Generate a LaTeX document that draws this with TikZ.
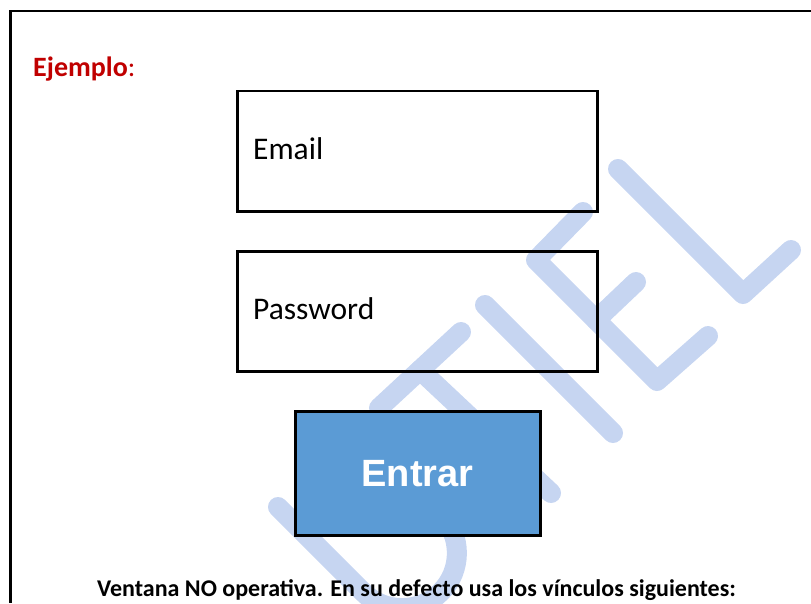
\documentclass[tikz,border=0pt]{standalone}
\usepackage{fontspec}
\setmainfont{Carlito}
\newfontfamily\btnfont{Liberation Sans}
\definecolor{wmblue}{RGB}{198,213,241}
\definecolor{btnblue}{HTML}{5B9BD5}
\definecolor{darkred}{HTML}{C00000}
\begin{document}
\begin{tikzpicture}[x=1pt,y=-1pt,
  wm/.style={draw=wmblue,line width=20pt,line cap=round,line join=round},
  fieldbox/.style={draw=black,line width=2.7pt,minimum width=360pt,minimum height=120.5pt,inner sep=0pt},
  btnbox/.style={draw=black,line width=3pt,fill=btnblue,minimum width=245pt,minimum height=124.5pt,inner sep=0pt,
     text=white,font=\btnfont\bfseries\fontsize{38}{42}\selectfont},
  fieldtext/.style={anchor=base west,inner sep=0pt,font=\fontsize{31.5}{36}\selectfont},
  frameline/.style={draw=black,line width=2.5pt}]
\useasboundingbox (0,0) rectangle (811,603);
% watermark UTIEL
\draw[wm] (278,507) -- (363,592) arc[start angle=-135,end angle=45,radius=55pt] -- (356,429);
\draw[wm] (379,408) -- (461,332);
\draw[wm] (420,370) -- (551,493);
\draw[wm] (485,305) -- (613,433);
\draw[wm] (583,212) -- (536,260) -- (657,381) -- (708,336);
\draw[wm] (596,320) -- (636,282);
\draw[wm] (618,169) -- (743,294) -- (791,250);
% frame
\coordinate (ftl) at (10.5,11);
\coordinate (ftr) at (811,11);
\coordinate (fbl) at (10.5,603);
\draw[frameline] (ftr) -- (ftl) -- (fbl);
% title
\node[anchor=base west,inner sep=0pt,text=darkred,font=\fontsize{28}{32}\selectfont] (title) at (33,76) {\textbf{Ejemplo}:};
% fields
\node[fieldbox] (email) at (417.6,151.3) {};
\node[fieldtext] (emaillbl) at (253,159) {Email};
\node[fieldbox] (pass) at (417.6,311.5) {};
\node[fieldtext] (passlbl) at (253,319) {Password};
% button
\node[btnbox] (entrar) at (417.5,473.7) {Entrar};
% bottom text
\node[anchor=base,inner sep=0pt,font=\bfseries\fontsize{24}{28}\selectfont] (note) at (416.5,596) {Ventana NO operativa. En su defecto usa los vínculos siguientes:};
\end{tikzpicture}
\end{document}
